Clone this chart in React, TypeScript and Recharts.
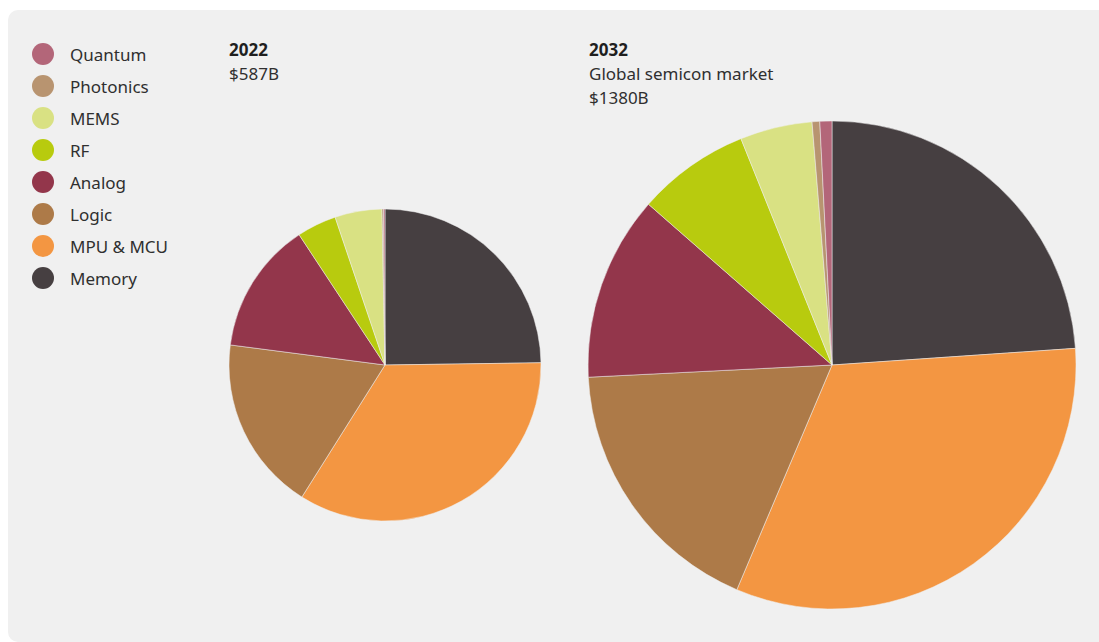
import React from 'react';
import { PieChart, Pie, Cell } from 'recharts';

const segments = ['Memory', 'MPU & MCU', 'Logic', 'Analog', 'RF', 'MEMS', 'Photonics', 'Quantum'];
const colors = ['#463f41', '#f39642', '#ad7a48', '#93364b', '#b8cb0e', '#d9e183', '#b89470', '#b36679'];
const values2022 = [145, 200, 106, 80, 24, 28.5, 0.9, 0.9];
const values2032 = [330, 448, 246, 169, 103, 66, 7, 11];
const legendOrder = ['Quantum', 'Photonics', 'MEMS', 'RF', 'Analog', 'Logic', 'MPU & MCU', 'Memory'];

const data2022 = segments.map((name, i) => ({ name, value: values2022[i] }));
const data2032 = segments.map((name, i) => ({ name, value: values2032[i] }));

const font = '"Noto Sans", sans-serif';

const LegendBox = () => (
  <div style={{ position: 'absolute', left: 24, top: 28, fontFamily: font }}>
    {legendOrder.map((name) => {
      const color = colors[segments.indexOf(name)];
      return (
        <div key={name} style={{ display: 'flex', alignItems: 'center', height: 32 }}>
          <span
            style={{
              width: 22,
              height: 22,
              borderRadius: '50%',
              background: color,
              display: 'inline-block',
              marginRight: 16,
            }}
          />
          <span style={{ fontSize: 17, color: '#2f2f2f' }}>{name}</span>
        </div>
      );
    })}
  </div>
);

export default function App() {
  return (
    <div>
      <style>{`body{margin:0;overflow:hidden}`}</style>
      <div
        style={{
          position: 'relative',
          marginLeft: 8,
          marginTop: 10,
          width: 1091,
          height: 632,
          background: '#f0f0f0',
          borderTopLeftRadius: 10,
          borderBottomLeftRadius: 10,
        }}
      >
        <PieChart width={1091} height={632} margin={{ top: 0, right: 0, bottom: 0, left: 0 }}>
          <Pie
            data={data2022}
            dataKey="value"
            nameKey="name"
            cx={377}
            cy={355}
            outerRadius={156}
            startAngle={90}
            endAngle={-270}
            stroke="#f0f0f0"
            strokeWidth={0.5}
            isAnimationActive={false}
          >
            {data2022.map((d, i) => (
              <Cell key={d.name} fill={colors[i]} />
            ))}
          </Pie>
          <Pie
            data={data2032}
            dataKey="value"
            nameKey="name"
            cx={824}
            cy={355}
            outerRadius={244}
            startAngle={90}
            endAngle={-270}
            stroke="#f0f0f0"
            strokeWidth={0.5}
            isAnimationActive={false}
          >
            {data2032.map((d, i) => (
              <Cell key={d.name} fill={colors[i]} />
            ))}
          </Pie>
        </PieChart>
        <LegendBox />
        <div style={{ position: 'absolute', left: 221, top: 28, fontFamily: font, fontSize: 17, lineHeight: '24px', color: '#2f2f2f' }}>
          <div style={{ fontWeight: 700, color: '#1f1f1f' }}>2022</div>
          <div>$587B</div>
        </div>
        <div style={{ position: 'absolute', left: 581, top: 28, fontFamily: font, fontSize: 17, lineHeight: '24px', color: '#2f2f2f' }}>
          <div style={{ fontWeight: 700, color: '#1f1f1f' }}>2032</div>
          <div>Global semicon market</div>
          <div>$1380B</div>
        </div>
      </div>
    </div>
  );
}
